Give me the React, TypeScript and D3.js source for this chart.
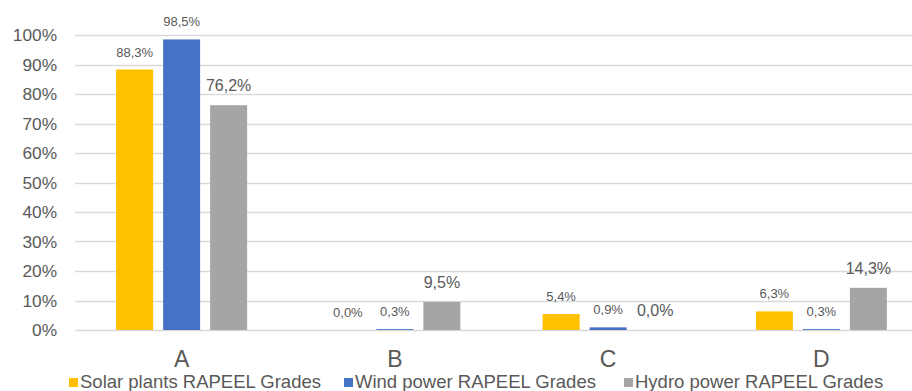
import React from "react";
import * as d3 from "d3";

const categories = ["A", "B", "C", "D"];
const seriesNames = [
  "Solar plants RAPEEL Grades",
  "Wind power RAPEEL Grades",
  "Hydro power RAPEEL Grades",
];
const solarValues = [0.883, 0.0, 0.054, 0.063];
const windValues = [0.985, 0.003, 0.009, 0.003];
const hydroValues = [0.762, 0.095, 0.0, 0.143];
const yTicks = [0, 0.1, 0.2, 0.3, 0.4, 0.5, 0.6, 0.7, 0.8, 0.9, 1.0];
const colors = ["#FFC000", "#4472C4", "#A5A5A5"];

const W = 912;
const H = 391;
const FONT = "'Liberation Sans', Arial, sans-serif";
const TEXT = "#595959";

const fmtPct = (v: number) => (v * 100).toFixed(1).replace(".", ",") + "%";

export default function App() {
  const values = [solarValues, windValues, hydroValues];
  const x0 = d3.scaleBand<string>().domain(categories).range([75, 928]);
  const x1 = d3
    .scaleBand<string>()
    .domain(seriesNames)
    .range([0, 131])
    .paddingInner(10 / 47);
  const groupOffset = (x0.bandwidth() - 131) / 2;
  const y = d3.scaleLinear().domain([0, 1]).range([330, 35]);

  const legendItems = [
    { x: 69, name: seriesNames[0], color: colors[0] },
    { x: 344, name: seriesNames[1], color: colors[1] },
    { x: 624, name: seriesNames[2], color: colors[2] },
  ];

  return (
    <svg
      width={W}
      height={H}
      style={{ position: "absolute", left: 0, top: 0, background: "#fff" }}
      fontFamily={FONT}
    >
      {/* horizontal gridlines */}
      {yTicks.map((t) => (
        <line
          key={"g" + t}
          x1={75}
          x2={W}
          y1={Math.round(y(t)) + 0.5}
          y2={Math.round(y(t)) + 0.5}
          stroke="#D9D9D9"
          strokeWidth={1.3}
        />
      ))}
      {/* y tick labels */}
      {yTicks.map((t) => (
        <text
          key={"t" + t}
          x={57}
          y={y(t)}
          dy="0.35em"
          textAnchor="end"
          fontSize={17.3}
          fill={TEXT}
        >
          {Math.round(t * 100) + "%"}
        </text>
      ))}
      {/* bars and value labels */}
      {categories.map((c, ci) =>
        seriesNames.map((s, si) => {
          const v = values[si][ci];
          const bx = (x0(c) ?? 0) + groupOffset + (x1(s) ?? 0);
          const bw = x1.bandwidth();
          const big = si === 2;
          return (
            <g key={c + s}>
              <rect
                x={bx}
                y={y(v)}
                width={bw}
                height={Math.max(0, y(0) - y(v))}
                fill={colors[si]}
              />
              <text
                x={bx + bw / 2}
                y={y(v) - (big ? 14 : 13)}
                textAnchor="middle"
                fontSize={big ? 16 : 13}
                fill={TEXT}
              >
                {fmtPct(v)}
              </text>
            </g>
          );
        })
      )}
      {/* category labels */}
      {categories.map((c) => (
        <text
          key={"c" + c}
          x={(x0(c) ?? 0) + x0.bandwidth() / 2}
          y={367}
          textAnchor="middle"
          fontSize={23}
          fill={TEXT}
        >
          {c}
        </text>
      ))}
      {/* legend */}
      {legendItems.map((it) => (
        <g key={it.name}>
          <rect x={it.x} y={378} width={9} height={9} fill={it.color} />
          <text x={it.x + 11} y={388} fontSize={18.5} fill={TEXT}>
            {it.name}
          </text>
        </g>
      ))}
    </svg>
  );
}
